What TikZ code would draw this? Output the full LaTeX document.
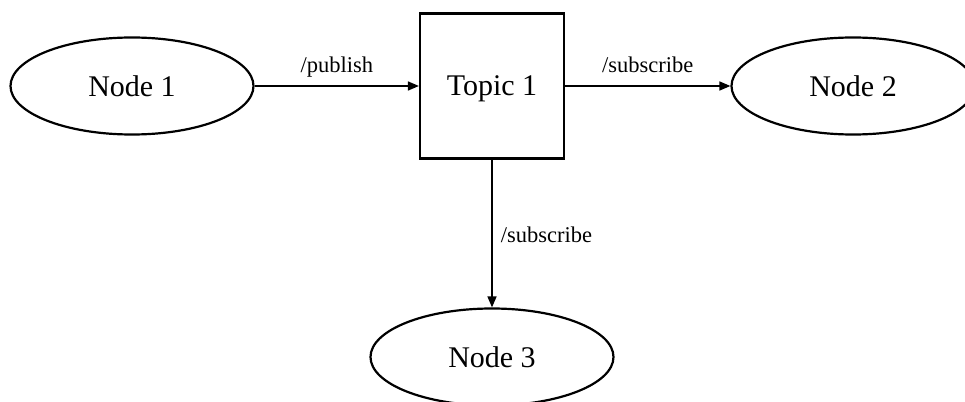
\documentclass[tikz,border=0pt]{standalone}
\usepackage{fontspec}
\setmainfont{Liberation Serif}
\usetikzlibrary{shapes.geometric,arrows.meta}
\begin{document}
\begin{tikzpicture}[x=1pt,y=-1pt,
  proc/.style={ellipse, draw, line width=2.2pt, minimum width=243pt, minimum height=97pt,
    inner sep=0pt, text depth=0pt, font=\fontsize{30}{32}\selectfont},
  topic/.style={rectangle, draw, line width=2.2pt, minimum width=144pt, minimum height=145pt,
    inner sep=0pt, text depth=0pt, font=\fontsize{30}{32}\selectfont},
  link/.style={-{Triangle[length=11pt,width=9pt]}, line width=1.6pt},
  lbl/.style={font=\fontsize{22.5}{24}\selectfont, inner sep=0pt}]
\useasboundingbox (0,0) rectangle (965,401);
\node[proc]  (n1) at (132,86)  {Node 1};
\node[topic] (t1) at (492,86)  {Topic 1};
\node[proc]  (n2) at (853,86)  {Node 2};
\node[proc]  (n3) at (492,357) {Node 3};
\draw[link] (n1) -- (t1) node[lbl, midway, anchor=base, yshift=13pt] {/publish};
\draw[link] (t1) -- (n2) node[lbl, midway, anchor=base, yshift=13pt] {/subscribe};
\draw[link] (t1) -- (n3) node[lbl, midway, anchor=base west, xshift=8pt, yshift=-9pt] {/subscribe};
\end{tikzpicture}
\end{document}
